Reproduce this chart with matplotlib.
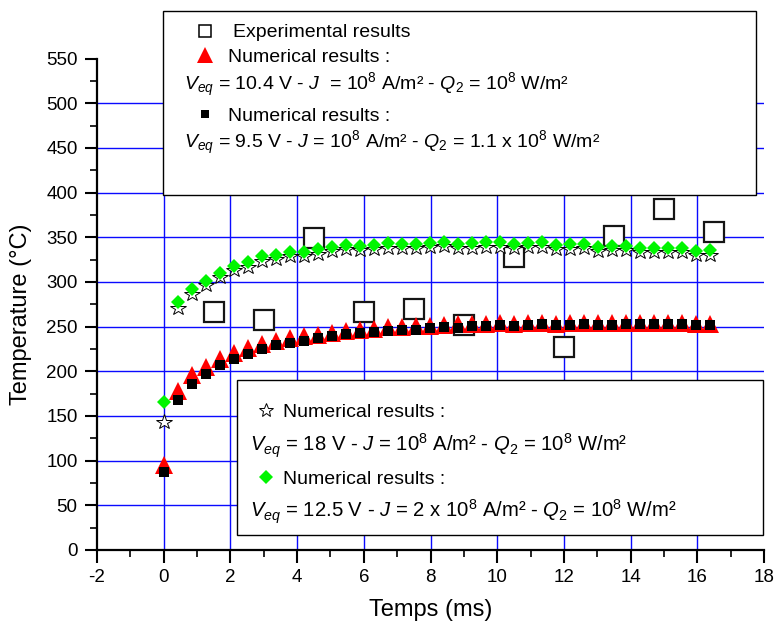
import matplotlib
matplotlib.use('Agg')
import matplotlib.pyplot as plt
from matplotlib.lines import Line2D
from matplotlib.patches import Rectangle

plt.rcParams['font.family'] = ['Liberation Sans', 'DejaVu Sans']
plt.rcParams['mathtext.fontset'] = 'custom'
plt.rcParams['mathtext.rm'] = 'Liberation Sans'
plt.rcParams['mathtext.it'] = 'Liberation Sans:italic'
plt.rcParams['mathtext.bf'] = 'Liberation Sans:bold'
plt.rcParams['axes.unicode_minus'] = False

# ---------------- data ----------------
time_ms = [0, 0.42, 0.84, 1.26, 1.68, 2.1, 2.52, 2.94, 3.36, 3.78,
           4.2, 4.62, 5.04, 5.46, 5.88, 6.3, 6.72, 7.14, 7.56, 7.98,
           8.4, 8.82, 9.24, 9.66, 10.08, 10.5, 10.92, 11.34, 11.76, 12.18,
           12.6, 13.02, 13.44, 13.86, 14.28, 14.7, 15.12, 15.54, 15.96, 16.38]

num_red = [95, 178, 195.5, 205, 214, 220.5, 226, 230, 234, 237.5,
           239, 241, 243, 245.5, 246.5, 247.5, 249, 250, 250.5, 250.5,
           252, 252.5, 252.5, 253, 253.5, 253, 253.5, 254, 253, 253.5,
           254, 253.5, 253.5, 254, 253.5, 253.5, 253.5, 253.5, 252.5, 252.5]

num_black = [87, 168, 186, 197, 207, 214, 219, 225, 229, 232,
             234, 237, 239.5, 241.5, 242.5, 243.5, 245, 246, 246.5, 248,
             249, 248.5, 250.5, 250.5, 251.5, 250.5, 252, 253, 252, 252,
             253, 252, 252, 253, 252.5, 252.5, 253, 253, 252, 252]

num_star = [143, 271, 287, 296.5, 305.5, 313, 317, 323.5, 325.5, 329,
            329, 331.5, 334.5, 336.5, 335.5, 336.5, 338, 337.5, 337.5, 339,
            340, 337.5, 338.5, 339.5, 339.5, 337.5, 339, 339.5, 336.5, 337,
            337.5, 334.5, 335.5, 335.5, 333, 333, 333, 333, 330, 330.5]

num_green = [166, 277, 292, 301.5, 310.5, 318, 322, 328.5, 330.5, 334,
             334, 336.5, 339.5, 341.5, 340.5, 341.5, 343, 342.5, 342.5, 344,
             345, 342.5, 343.5, 344.5, 344.5, 342.5, 344, 344.5, 341.5, 342,
             342.5, 339.5, 340.5, 340.5, 338, 338, 338, 338, 335, 335.5]

exp_time = [1.5, 3, 4.5, 6, 7.5, 9, 10.5, 12, 13.5, 15, 16.5]
exp_temp = [266, 257, 349, 266, 270, 252, 328, 227, 351, 382, 356]

x_major = [-2, 0, 2, 4, 6, 8, 10, 12, 14, 16, 18]
y_major = [0, 50, 100, 150, 200, 250, 300, 350, 400, 450, 500, 550]
x_grid = [0, 2, 4, 6, 8, 10, 12, 14, 16]
y_grid = [50, 100, 150, 200, 250, 300, 350, 400, 450, 500]

legend_top = [
    "Experimental results",
    "Numerical results :",
    r"$V_{eq}$ = 10.4 V - $J$  = 10$^{8}$ A/m² - $Q_{2}$ = 10$^{8}$ W/m²",
    "Numerical results :",
    r"$V_{eq}$ = 9.5 V - $J$ = 10$^{8}$ A/m² - $Q_{2}$ = 1.1 x 10$^{8}$ W/m²",
]
legend_bottom = [
    "Numerical results :",
    r"$V_{eq}$ = 18 V - $J$ = 10$^{8}$ A/m² - $Q_{2}$ = 10$^{8}$ W/m²",
    "Numerical results :",
    r"$V_{eq}$ = 12.5 V - $J$ = 2 x 10$^{8}$ A/m² - $Q_{2}$ = 10$^{8}$ W/m²",
]

# ---------------- figure ----------------
W, H = 775, 627
fig = plt.figure(figsize=(W / 100, H / 100), dpi=100)


def fx(px):
    return px / W


def fy(py):
    return 1 - py / H


ax = fig.add_axes([fx(97), fy(550), fx(764) - fx(97), fy(58.5) - fy(550)])
ax.set_xlim(-2, 18)
ax.set_ylim(0, 550)

for g in x_grid:
    ax.axvline(g, color='#0a0aff', lw=1.0, zorder=0)
for g in y_grid:
    ax.axhline(g, color='#0a0aff', lw=1.0, zorder=0)

GREEN = '#00f500'
ax.plot(exp_time, exp_temp, ls='none', marker='s', ms=14.5, mfc='white',
        mec='#151515', mew=1.6, zorder=2, clip_on=False)
ax.plot(time_ms, num_red, ls='none', marker='^', ms=12.5, mfc='red',
        mec='red', mew=0, zorder=3, clip_on=False)
ax.plot(time_ms, num_black, ls='none', marker='s', ms=6.8, mfc='black',
        mec='black', mew=0, zorder=4, clip_on=False)
ax.plot(time_ms, num_star, ls='none', marker='*', ms=11.5, mfc='white',
        mec='black', mew=0.7, zorder=5, clip_on=False)
ax.plot(time_ms, num_green, ls='none', marker='D', ms=7.2, mfc=GREEN,
        mec=GREEN, mew=0, zorder=6, clip_on=False)

for s in ['top', 'right']:
    ax.spines[s].set_visible(False)
for s in ['left', 'bottom']:
    ax.spines[s].set_linewidth(1.6)
    ax.spines[s].set_color('black')

ax.set_xticks(x_major)
ax.set_xticks([v for v in range(-2, 19)], minor=True)
ax.set_yticks(y_major)
ax.set_yticks(list(range(0, 551, 25)), minor=True)
ax.tick_params(which='major', direction='out', length=9, width=1.5,
               labelsize=13.5, pad=5)
ax.tick_params(which='minor', direction='out', length=5, width=1.2)

ax.set_xlabel('Temps (ms)', fontsize=17, labelpad=9)
ax.set_ylabel('Temperature (°C)', fontsize=17)
ax.yaxis.set_label_coords(-0.097, 0.48)

# ---------------- top legend box ----------------
fig.add_artist(Rectangle((fx(163), fy(195)), fx(756) - fx(163), fy(11) - fy(195),
                         transform=fig.transFigure, facecolor='white',
                         edgecolor='black', lw=1.0, zorder=10))
sym_kw = dict(transform=fig.transFigure, ls='none', zorder=11)
fig.add_artist(Line2D([fx(205)], [fy(31)], marker='s', ms=9, mfc='white',
                      mec='black', mew=1.1, **sym_kw))
fig.add_artist(Line2D([fx(205)], [fy(55)], marker='^', ms=11.5, mfc='red',
                      mec='red', mew=0, **sym_kw))
fig.add_artist(Line2D([fx(205)], [fy(114)], marker='s', ms=6.2, mfc='black',
                      mec='black', mew=0, **sym_kw))

txt_kw = dict(ha='left', va='baseline', fontsize=14, zorder=12)
fig.text(fx(233), fy(37), legend_top[0], **txt_kw)
fig.text(fx(228), fy(62), legend_top[1], **txt_kw)
fig.text(fx(184), fy(90), legend_top[2], **txt_kw)
fig.text(fx(228), fy(121), legend_top[3], **txt_kw)
fig.text(fx(184), fy(148), legend_top[4], **txt_kw)

# ---------------- bottom legend box ----------------
fig.add_artist(Rectangle((fx(237), fy(535)), fx(763) - fx(237), fy(380) - fy(535),
                         transform=fig.transFigure, facecolor='white',
                         edgecolor='black', lw=1.0, zorder=10))
fig.add_artist(Line2D([fx(266)], [fy(410)], marker='*', ms=10.5, mfc='white',
                      mec='black', mew=0.7, **sym_kw))
fig.add_artist(Line2D([fx(266)], [fy(477)], marker='D', ms=7, mfc=GREEN,
                      mec=GREEN, mew=0, **sym_kw))
big_kw = dict(txt_kw, fontsize=14.6)
fig.text(fx(283), fy(417), legend_bottom[0], **txt_kw)
fig.text(fx(250), fy(451), legend_bottom[1], **big_kw)
fig.text(fx(283), fy(484), legend_bottom[2], **txt_kw)
fig.text(fx(250), fy(517), legend_bottom[3], **big_kw)

fig.savefig('out.png', dpi=100)
